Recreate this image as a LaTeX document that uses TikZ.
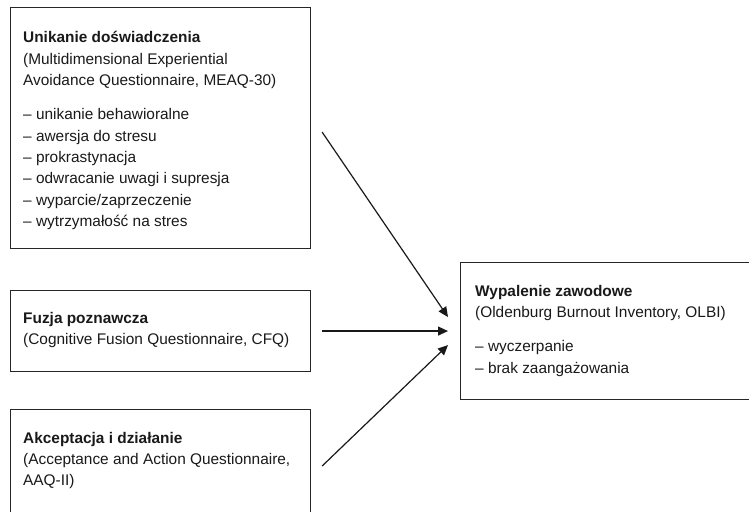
\documentclass[tikz,border=0pt]{standalone}
\usepackage{fontspec}
\setmainfont{Liberation Sans}
\usetikzlibrary{arrows.meta}

\tikzset{
    ramka/.style={draw=black!85, line width=1.1pt, inner sep=0pt, anchor=north west, minimum width=300pt},
    tekst/.style={anchor=north west, inner sep=0pt, align=left, font=\fontsize{15.4}{21.3}\selectfont, text=black!90},
    strzalka/.style={-{Triangle[length=10pt,width=9pt]}, line width=1.2pt, color=black!90}
}

\begin{document}
\begin{tikzpicture}[x=1pt, y=-1pt]
        \useasboundingbox (0,0) rectangle (749,511);
        \clip (0,0) rectangle (749,511);

        % Ramki
        \node[ramka, minimum height=241pt] (unik) at (10,7) {};
        \node[ramka, minimum height=81pt] (fuzja) at (10,290) {};
        \node[ramka, minimum height=125pt] (akcept) at (10,409) {};
        \node[ramka, minimum height=137pt] (wypal) at (460,262) {};

        % Teksty
        \node[tekst] (unikTxt) at ([shift={(13,24.5)}]unik.north west)
            {\textbf{Unikanie doświadczenia}\\
             (Multidimensional Experiential\\
             Avoidance Questionnaire, MEAQ-30)\\[13pt]
             – unikanie behawioralne\\
             – awersja do stresu\\
             – prokrastynacja\\
             – odwracanie uwagi i supresja\\
             – wyparcie/zaprzeczenie\\
             – wytrzymałość na stres};
        \node[tekst] (fuzjaTxt) at ([shift={(13,22)}]fuzja.north west)
            {\textbf{Fuzja poznawcza}\\
             (Cognitive Fusion Questionnaire, CFQ)};
        \node[tekst] (akceptTxt) at ([shift={(13,23)}]akcept.north west)
            {\textbf{Akceptacja i działanie}\\
             (Acceptance and Action Questionnaire,\\
             AAQ-II)};
        \node[tekst] (wypalTxt) at ([shift={(15,23)}]wypal.north west)
            {\textbf{Wypalenie zawodowe}\\
             (Oldenburg Burnout Inventory, OLBI)\\[13pt]
             – wyczerpanie\\
             – brak zaangażowania};

        % Strzałki
        \draw[strzalka] ([shift={(11,4)}]unik.east) -- ([shift={(-12,-14)}]wypal.west);
        \draw[strzalka] ([shift={(11,0)}]fuzja.east) -- ([shift={(-12,0)}]wypal.west);
        \draw[strzalka] ([shift={(11,-6)}]akcept.east) -- ([shift={(-12,14)}]wypal.west);
    \end{tikzpicture}
\end{document}
